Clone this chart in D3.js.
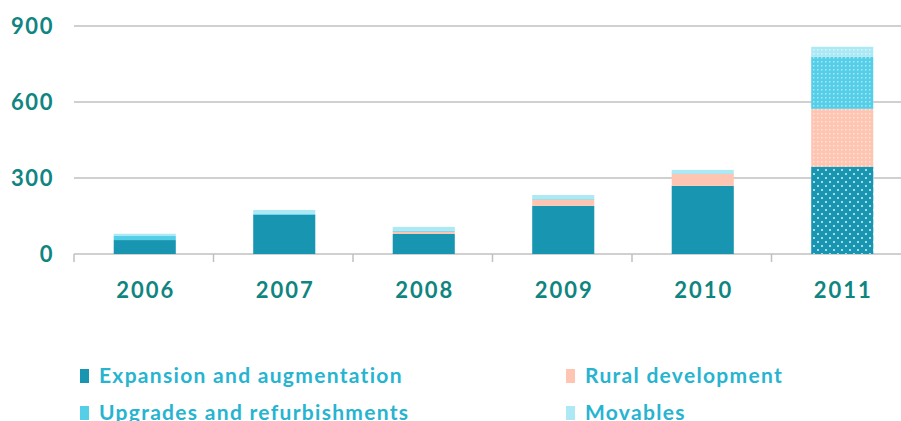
<!DOCTYPE html>
<html>
<head>
<meta charset="utf-8">
<script src="https://cdn.jsdelivr.net/npm/d3@7"></script>
<style>
  body { margin: 0; background: #fff; }
  svg { display: block; }
</style>
</head>
<body>
<div id="chart"></div>
<script>
// data
var years = ["2006", "2007", "2008", "2009", "2010", "2011"];
var expansion = [55, 155, 79, 190, 269, 345];
var rural = [0, 0, 9, 25, 47, 228];
var upgrades = [16, 3, 3, 2, 2, 205];
var movables = [9, 16, 16, 16, 14, 40];
var yTicks = [0, 300, 600, 900];

var seriesNames = ["Expansion and augmentation", "Rural development",
                   "Upgrades and refurbishments", "Movables"];
var seriesKeys = ["expansion", "rural", "upgrades", "movables"];
var colors = ["#1795b1", "#fec5b3", "#55cfe8", "#ade8f5"];

var W = 901, H = 421;
var margin = {top: 26, left: 74, bottom: 254, right: 911};

var svg = d3.select("#chart").append("svg")
    .attr("width", W)
    .attr("height", H);

// dotted fills for the last (forecast) year
var defs = svg.append("defs");
colors.forEach(function(c, i) {
  var p = defs.append("pattern")
      .attr("id", "pat" + i)
      .attr("patternUnits", "userSpaceOnUse");
  if (i == 0) {
    p.attr("width", 8).attr("height", 8);
    p.append("rect").attr("width", 8).attr("height", 8).attr("fill", c);
    p.append("circle").attr("cx", 2).attr("cy", 2).attr("r", 1).attr("fill", "#fff").attr("opacity", 0.85);
    p.append("circle").attr("cx", 6).attr("cy", 6).attr("r", 1).attr("fill", "#fff").attr("opacity", 0.85);
  } else {
    p.attr("width", 4).attr("height", 4);
    p.append("rect").attr("width", 4).attr("height", 4).attr("fill", c);
    p.append("rect").attr("x", 1).attr("y", 1).attr("width", 1.5).attr("height", 1.5)
      .attr("fill", "#fff").attr("opacity", 0.5);
  }
});

var table = years.map(function(y, i) {
  return {year: y, expansion: expansion[i], rural: rural[i], upgrades: upgrades[i], movables: movables[i]};
});
var stacked = d3.stack().keys(seriesKeys)(table);

var x = d3.scaleBand()
    .domain(years)
    .range([margin.left, margin.right]);
var y = d3.scaleLinear()
    .domain([0, 900])
    .range([margin.bottom, margin.top]);

var barW = x.bandwidth() * 0.445;

// gridlines
svg.append("g")
  .selectAll("line")
  .data(yTicks)
  .enter()
  .append("line")
    .attr("x1", margin.left)
    .attr("x2", W)
    .attr("y1", function(d) { return y(d); })
    .attr("y2", function(d) { return y(d); })
    .attr("stroke", "#c0c0c0")
    .attr("stroke-width", 1.5);

// category separators below the baseline
svg.append("g")
  .selectAll("line")
  .data(years.concat(["end"]))
  .enter()
  .append("line")
    .attr("x1", function(d, i) { return margin.left + i * x.step(); })
    .attr("x2", function(d, i) { return margin.left + i * x.step(); })
    .attr("y1", y(0))
    .attr("y2", y(0) + 8)
    .attr("stroke", "#c0c0c0")
    .attr("stroke-width", 1.5);

// bars
svg.append("g")
  .selectAll("g")
  .data(stacked)
  .enter()
  .append("g")
  .selectAll("rect")
  .data(function(d, k) { return d.map(function(v) { return {v: v, k: k}; }); })
  .enter()
  .append("rect")
    .attr("x", function(d) { return x(d.v.data.year) + (x.bandwidth() - barW) / 2 + 1; })
    .attr("width", barW)
    .attr("y", function(d) { return y(d.v[1]); })
    .attr("height", function(d) { return y(d.v[0]) - y(d.v[1]); })
    .attr("fill", function(d) {
      return d.v.data.year == "2011" ? "url(#pat" + d.k + ")" : colors[d.k];
    });

// y labels
svg.append("g")
  .selectAll("text")
  .data(yTicks)
  .enter()
  .append("text")
    .attr("x", 54)
    .attr("y", function(d) { return y(d); })
    .attr("dy", "0.36em")
    .attr("text-anchor", "end")
    .style("font-family", "Lato, 'Open Sans', sans-serif")
    .style("font-weight", "bold")
    .style("font-size", "22px")
    .style("letter-spacing", "1.6px")
    .style("fill", "#0f8581")
    .text(function(d) { return d; });

// x labels
svg.append("g")
  .selectAll("text")
  .data(years)
  .enter()
  .append("text")
    .attr("x", function(d) { return x(d) + x.bandwidth() / 2 + 2; })
    .attr("y", 298)
    .attr("text-anchor", "middle")
    .style("font-family", "Lato, 'Open Sans', sans-serif")
    .style("font-weight", "bold")
    .style("font-size", "22px")
    .style("letter-spacing", "2px")
    .style("fill", "#0f8581")
    .text(function(d) { return d; });

// legend, two columns
var legend = svg.append("g")
  .selectAll("g")
  .data(seriesNames)
  .enter()
  .append("g")
    .attr("transform", function(d, i) {
      return "translate(" + (i % 2 == 0 ? 80 : 566) + "," + (i < 2 ? 369 : 406) + ")";
    });
legend.append("rect")
    .attr("width", 9)
    .attr("height", 14)
    .attr("fill", function(d, i) { return colors[i]; });
legend.append("text")
    .attr("x", 19)
    .attr("y", 14)
    .style("font-family", "Lato, 'Open Sans', sans-serif")
    .style("font-weight", "bold")
    .style("font-size", "21px")
    .style("letter-spacing", "1.3px")
    .style("fill", "#27b4d0")
    .text(function(d) { return d; });
</script>
</body>
</html>
